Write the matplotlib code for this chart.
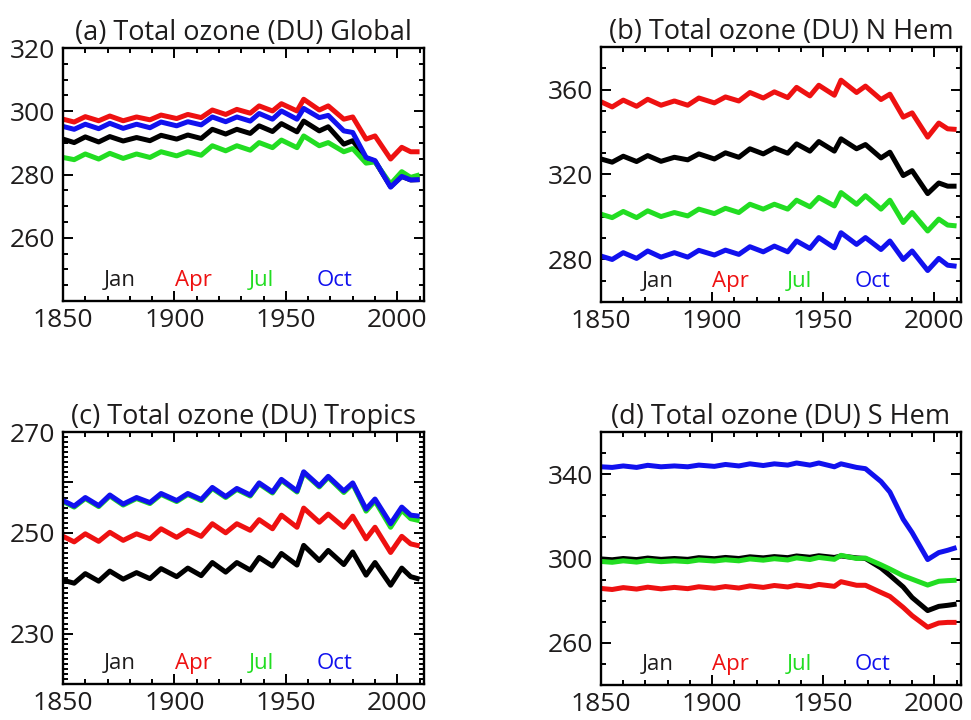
import matplotlib
matplotlib.use("Agg")
import matplotlib.pyplot as plt
from matplotlib.ticker import MultipleLocator, FixedLocator, FuncFormatter

plt.rcParams['font.family'] = ['Open Sans', 'DejaVu Sans']

years = [1850, 1855, 1860, 1866, 1871, 1877, 1883, 1889, 1894, 1901, 1906,
         1912, 1917, 1923, 1928, 1934, 1938, 1944, 1948, 1955, 1958, 1965,
         1969, 1976, 1980, 1986, 1990, 1997, 2002, 2006, 2010]

months = ["Jan", "Apr", "Jul", "Oct"]

# (a) Global
glob_jan = [291.2, 290.1, 291.9, 290.3, 292.0, 290.6, 291.7, 290.7, 292.4, 291.2, 292.5,
            291.4, 294.3, 292.8, 294.3, 293.0, 295.4, 293.6, 296.1, 293.5, 296.9, 293.8,
            295.1, 289.6, 290.7, 285.2, 284.2, 276.2, 279.4, 278.3, 278.4]
glob_apr = [297.5, 296.6, 298.3, 297.0, 298.5, 297.0, 298.2, 297.3, 298.8, 297.7, 299.0,
            298.0, 300.4, 299.0, 300.6, 299.4, 301.7, 300.1, 302.4, 300.1, 303.8, 300.4,
            301.7, 297.5, 298.2, 291.2, 292.2, 284.9, 288.6, 287.2, 287.2]
glob_jul = [285.4, 284.7, 286.5, 284.9, 286.7, 285.1, 286.5, 285.4, 287.2, 285.9, 287.2,
            286.1, 289.1, 287.5, 289.1, 287.7, 290.1, 288.5, 290.9, 288.5, 292.2, 289.1,
            290.1, 287.2, 288.2, 283.6, 284.0, 277.0, 280.9, 279.1, 279.9]
glob_oct = [295.2, 294.3, 295.9, 294.5, 296.2, 294.6, 295.9, 294.8, 296.6, 295.4, 296.7,
            295.7, 298.2, 296.7, 298.2, 296.9, 299.3, 297.5, 300.1, 297.5, 300.9, 298.0,
            298.7, 293.8, 293.3, 285.4, 284.4, 276.0, 279.4, 278.3, 278.4]

# (b) N Hem
nh_jan = [327.3, 325.8, 328.6, 326.1, 328.9, 326.2, 328.1, 326.9, 329.7, 327.3, 330.2,
          328.1, 332.1, 329.7, 332.5, 330.0, 334.4, 331.0, 335.5, 331.0, 336.8, 332.1,
          334.1, 327.8, 330.5, 319.5, 321.8, 311.0, 316.0, 314.5, 314.5]
nh_apr = [354.2, 351.8, 355.0, 352.1, 355.4, 352.6, 354.6, 352.6, 356.0, 353.7, 356.5,
          354.6, 358.6, 356.0, 358.9, 356.2, 361.0, 357.0, 362.0, 357.3, 364.4, 358.6,
          361.6, 355.3, 357.8, 347.0, 349.0, 337.6, 344.2, 341.5, 341.2]
nh_jul = [301.3, 299.7, 302.6, 299.7, 302.9, 300.2, 302.1, 300.5, 303.7, 301.6, 304.1,
          302.1, 306.0, 303.7, 306.0, 303.7, 307.9, 304.8, 309.2, 305.2, 311.5, 306.0,
          310.0, 303.7, 307.9, 297.4, 302.1, 293.4, 299.0, 296.2, 295.8]
nh_oct = [281.6, 280.0, 283.2, 280.5, 284.0, 281.1, 283.2, 281.1, 284.3, 282.1, 284.4,
          282.4, 286.0, 283.6, 286.3, 283.6, 288.7, 285.2, 290.3, 285.5, 292.6, 287.1,
          290.3, 284.7, 288.7, 280.0, 284.0, 274.8, 280.5, 277.3, 276.8]

# (c) Tropics
tr_jan = [240.6, 240.0, 241.9, 240.4, 242.4, 240.8, 242.1, 240.9, 242.9, 241.3, 243.0,
          241.5, 244.1, 242.2, 244.1, 242.6, 245.1, 243.4, 245.9, 243.6, 247.5, 244.5,
          246.5, 243.7, 246.2, 241.6, 244.1, 239.6, 243.0, 241.3, 240.8]
tr_apr = [249.3, 248.2, 249.8, 248.3, 250.1, 248.5, 249.8, 248.8, 250.8, 249.1, 250.5,
          249.3, 251.8, 250.0, 251.8, 250.5, 252.6, 250.8, 253.5, 251.1, 254.9, 252.1,
          253.7, 251.1, 253.3, 248.8, 251.1, 246.1, 249.3, 247.8, 247.4]
tr_jul = [256.2, 255.1, 256.8, 255.2, 257.3, 255.5, 256.8, 255.8, 257.6, 256.2, 257.6,
          256.4, 258.8, 257.0, 258.6, 257.3, 259.7, 257.9, 260.4, 258.1, 261.9, 259.1,
          261.0, 258.0, 259.7, 254.3, 256.3, 251.1, 254.5, 252.8, 252.4]
tr_oct = [256.4, 255.3, 257.0, 255.4, 257.5, 255.7, 257.0, 256.0, 257.8, 256.4, 257.8,
          256.6, 259.0, 257.2, 258.8, 257.5, 259.9, 258.1, 260.6, 258.3, 262.1, 259.3,
          261.2, 258.3, 259.9, 254.7, 256.7, 251.8, 255.1, 253.5, 253.3]

# (d) S Hem
sh_jan = [299.8, 299.4, 300.0, 299.5, 300.2, 299.6, 300.0, 299.6, 300.4, 299.9, 300.5,
          300.0, 300.8, 300.3, 300.9, 300.4, 301.2, 300.6, 301.3, 300.5, 301.2, 300.3,
          300.0, 295.5, 292.0, 286.5, 281.5, 275.3, 277.3, 277.8, 278.4]
sh_apr = [285.8, 285.3, 286.2, 285.5, 286.4, 285.6, 286.3, 285.7, 286.6, 285.9, 286.7,
          286.0, 287.0, 286.3, 287.2, 286.5, 287.4, 286.6, 287.7, 286.8, 289.0, 287.3,
          287.3, 283.9, 282.0, 276.8, 272.9, 267.4, 269.4, 269.7, 269.7]
sh_jul = [298.6, 298.2, 298.9, 298.3, 299.1, 298.5, 298.9, 298.5, 299.3, 298.8, 299.4,
          298.9, 299.8, 299.2, 299.9, 299.3, 300.3, 299.5, 300.5, 299.6, 301.5, 300.0,
          300.2, 297.0, 295.0, 291.8, 290.2, 287.4, 289.2, 289.5, 289.7]
sh_oct = [343.5, 343.2, 343.9, 343.2, 344.2, 343.5, 343.9, 343.5, 344.3, 343.7, 344.6,
          343.9, 344.9, 344.1, 344.9, 344.3, 345.3, 344.3, 345.3, 343.5, 344.9, 343.2,
          342.6, 336.5, 331.5, 318.6, 312.3, 299.5, 302.8, 303.9, 305.2]

colors = ["black", "#ee1111", "#22dd22", "#1111ee"]
txt_color = "#1e1c1c"

panels = [
    dict(rect=[0.0649, 0.5819, 0.3718, 0.3514], title="(a) Total ozone (DU) Global",
         series=[glob_jan, glob_apr, glob_jul, glob_oct], ylim=(240, 320),
         major=20, minor=5, labels=[260, 280, 300, 320]),
    dict(rect=[0.6190, 0.5806, 0.3707, 0.3541], title="(b) Total ozone (DU) N Hem",
         series=[nh_jan, nh_apr, nh_jul, nh_oct], ylim=(260, 380),
         major=40, minor=10, labels=[280, 320, 360], ticks=[280, 320, 360]),
    dict(rect=[0.0649, 0.0500, 0.3718, 0.3500], title="(c) Total ozone (DU) Tropics",
         series=[tr_jan, tr_apr, tr_jul, tr_oct], ylim=(220, 270),
         major=10, minor=1, labels=[230, 250, 270]),
    dict(rect=[0.6190, 0.0486, 0.3707, 0.3514], title="(d) Total ozone (DU) S Hem",
         series=[sh_jan, sh_apr, sh_jul, sh_oct], ylim=(240, 360),
         major=40, minor=10, labels=[260, 300, 340], ticks=[260, 300, 340]),
]

fig = plt.figure(figsize=(9.71, 7.2), dpi=100)
month_x = [0.158, 0.36, 0.55, 0.753]

for p in panels:
    ax = fig.add_axes(p["rect"])
    for vals, c in zip(p["series"], colors):
        ax.plot(years, vals, color=c, lw=3.6, solid_joinstyle="round",
                solid_capstyle="butt")
    ax.set_xlim(1850, 2012)
    ax.set_ylim(*p["ylim"])
    ax.xaxis.set_major_locator(FixedLocator([1850, 1900, 1950, 2000]))
    ax.xaxis.set_minor_locator(MultipleLocator(10))
    if "ticks" in p:
        ax.yaxis.set_major_locator(FixedLocator(p["ticks"]))
    else:
        ax.yaxis.set_major_locator(MultipleLocator(p["major"]))
    ax.yaxis.set_minor_locator(MultipleLocator(p["minor"]))
    labs = p["labels"]
    ax.yaxis.set_major_formatter(FuncFormatter(
        lambda v, pos, labs=labs: "%d" % round(v) if int(round(v)) in labs else ""))
    ax.tick_params(which="both", direction="in", top=True, right=True,
                   width=1.4, colors="black", labelcolor=txt_color, labelsize=19)
    ax.tick_params(which="major", length=7)
    ax.tick_params(which="minor", length=3.5)
    ax.tick_params(axis="x", pad=5)
    ax.tick_params(axis="y", pad=6)
    for s in ax.spines.values():
        s.set_linewidth(1.7)
    ax.set_title(p["title"], fontsize=19.5, color=txt_color, pad=6)
    for m, c, xm in zip(months, colors, month_x):
        ax.text(xm, 0.04, m, color=(txt_color if c == "black" else c),
                transform=ax.transAxes, ha="center", va="bottom", fontsize=16)

fig.savefig("out.png", dpi=100)
